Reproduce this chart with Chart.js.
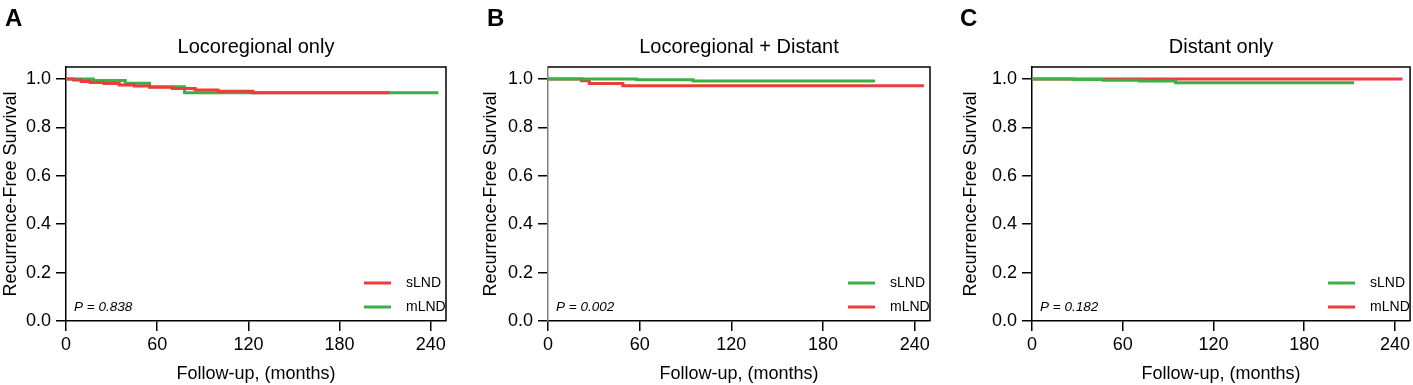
<!DOCTYPE html>
<html lang="en">
<head>
<meta charset="UTF-8">
<title>Recurrence-free survival by recurrence pattern</title>
<script src="https://cdn.jsdelivr.net/npm/chart.js"></script>
<style>
  body { margin: 0; background: #fff; width: 1413px; height: 385px; overflow: hidden; position: relative; }
  canvas { position: absolute; top: 0; }
</style>
</head>
<body>
<canvas id="panelA" width="470" height="385" style="left:0px"></canvas>
<canvas id="panelB" width="470" height="385" style="left:480px"></canvas>
<canvas id="panelC" width="453" height="385" style="left:960px"></canvas>
<script>
// Kaplan-Meier steps (months, survival)
const aSlndMonths = [0, 5, 10, 16, 25, 35, 45, 55, 70, 85, 100, 123, 213];
const aSlndSurv   = [1.0, 0.996, 0.99, 0.986, 0.982, 0.976, 0.971, 0.966, 0.961, 0.955, 0.95, 0.944, 0.944];
const aMlndMonths = [0, 18, 39, 55, 78, 245];
const aMlndSurv   = [1.0, 0.994, 0.983, 0.968, 0.944, 0.944];

const bSlndMonths = [0, 58, 95, 214];
const bSlndSurv   = [1.0, 0.997, 0.992, 0.992];
const bMlndMonths = [0, 22, 27, 49, 246];
const bMlndSurv   = [1.0, 0.993, 0.982, 0.972, 0.972];

const cSlndMonths = [0, 27, 47, 71, 95, 213];
const cSlndSurv   = [1.0, 0.998, 0.995, 0.992, 0.985, 0.985];
const cMlndMonths = [0, 245];
const cMlndSurv   = [1.0, 1.0];

const monthTicks = [0, 60, 120, 180, 240];
const survTicks  = [0, 0.2, 0.4, 0.6, 0.8, 1.0];

const RED = '#ee3b3b';
const GREEN = '#3bb044';
const FONT = '"Liberation Sans", Arial, Helvetica, sans-serif';

function pts(xs, ys) {
  return xs.map((x, i) => ({ x: x, y: ys[i] }));
}

// title, panel letter, p value, legend and top/right frame
const kmDecor = {
  id: 'kmDecor',
  afterDraw(chart, args, o) {
    const ctx = chart.ctx, a = chart.chartArea;
    ctx.save();
    ctx.strokeStyle = '#000';
    ctx.lineWidth = 1.5;
    ctx.beginPath();
    ctx.moveTo(a.left, a.top);
    ctx.lineTo(a.right, a.top);
    ctx.lineTo(a.right, a.bottom);
    ctx.stroke();

    ctx.fillStyle = '#000';
    ctx.textAlign = 'left';
    ctx.textBaseline = 'alphabetic';
    ctx.font = 'bold 24px ' + FONT;
    ctx.fillText(o.letter, o.letterX, 26);

    ctx.textAlign = 'center';
    ctx.textBaseline = 'middle';
    ctx.font = '20px ' + FONT;
    ctx.fillText(o.title, (a.left + a.right) / 2, 47);

    ctx.textAlign = 'left';
    ctx.font = 'italic 13.5px ' + FONT;
    ctx.fillText(o.pText, a.left + 8, a.bottom - 14);

    chart.data.datasets.forEach((ds, i) => {
      const y = a.bottom - 38 + i * 24;
      ctx.strokeStyle = ds.borderColor;
      ctx.lineWidth = 3;
      ctx.beginPath();
      ctx.moveTo(a.right - 82, y);
      ctx.lineTo(a.right - 55, y);
      ctx.stroke();
      ctx.fillStyle = '#000';
      ctx.font = '14px ' + FONT;
      ctx.fillText(ds.label, a.right - 40, y);
    });
    ctx.restore();
  }
};

function makePanel(id, cfg) {
  const line = (label, color, xs, ys) => ({
    label: label,
    data: pts(xs, ys),
    borderColor: color,
    borderWidth: 3,
    pointRadius: 0,
    fill: false,
    stepped: true
  });
  return new Chart(document.getElementById(id), {
    type: 'line',
    data: {
      datasets: [
        line('sLND', cfg.slndColor, cfg.slnd[0], cfg.slnd[1]),
        line('mLND', cfg.mlndColor, cfg.mlnd[0], cfg.mlnd[1])
      ]
    },
    options: {
      responsive: false,
      animation: false,
      layout: { padding: { top: 67, right: cfg.padRight, bottom: 0, left: 0 } },
      plugins: {
        legend: { display: false },
        tooltip: { enabled: false },
        kmDecor: { letter: cfg.letter, letterX: cfg.letterX, title: cfg.title, pText: cfg.pText }
      },
      scales: {
        x: {
          type: 'linear', min: 0, max: 250,
          afterBuildTicks: s => { s.ticks = monthTicks.map(v => ({ value: v })); },
          afterFit: s => { s.height = 64; },
          grid: { display: true, drawOnChartArea: false, drawTicks: true, tickLength: 10, color: '#000', lineWidth: 1.5 },
          border: { display: true, color: '#000', width: 1.5 },
          ticks: { color: '#000', font: { size: 18, family: FONT }, padding: 3, maxRotation: 0 },
          title: { display: true, text: 'Follow-up, (months)', color: '#000', font: { size: 18, family: FONT }, padding: 0 }
        },
        y: {
          type: 'linear', min: 0, max: 1.05,
          afterBuildTicks: s => { s.ticks = survTicks.map(v => ({ value: v })); },
          afterFit: s => { s.width = cfg.axisWidth; },
          grid: { display: true, drawOnChartArea: false, drawTicks: true, tickLength: 10, color: '#000', lineWidth: 1.5 },
          border: { display: true, color: cfg.yAxisColor, width: 1.5 },
          ticks: { color: '#000', font: { size: 18, family: FONT }, padding: 5, callback: v => v.toFixed(1) },
          title: { display: true, text: 'Recurrence-Free Survival', color: '#000', font: { size: 18, family: FONT }, padding: 0 }
        }
      }
    },
    plugins: [kmDecor]
  });
}

makePanel('panelA', {
  letter: 'A', letterX: 5, title: 'Locoregional only', pText: 'P = 0.838',
  axisWidth: 66, padRight: 24, yAxisColor: '#000',
  slnd: [aSlndMonths, aSlndSurv], slndColor: RED,
  mlnd: [aMlndMonths, aMlndSurv], mlndColor: GREEN
});
makePanel('panelB', {
  letter: 'B', letterX: 7, title: 'Locoregional + Distant', pText: 'P = 0.002',
  axisWidth: 68, padRight: 20, yAxisColor: '#808080',
  slnd: [bSlndMonths, bSlndSurv], slndColor: GREEN,
  mlnd: [bMlndMonths, bMlndSurv], mlndColor: RED
});
makePanel('panelC', {
  letter: 'C', letterX: 0, title: 'Distant only', pText: 'P = 0.182',
  axisWidth: 72, padRight: 1, yAxisColor: '#000',
  slnd: [cSlndMonths, cSlndSurv], slndColor: GREEN,
  mlnd: [cMlndMonths, cMlndSurv], mlndColor: RED
});
</script>
</body>
</html>
